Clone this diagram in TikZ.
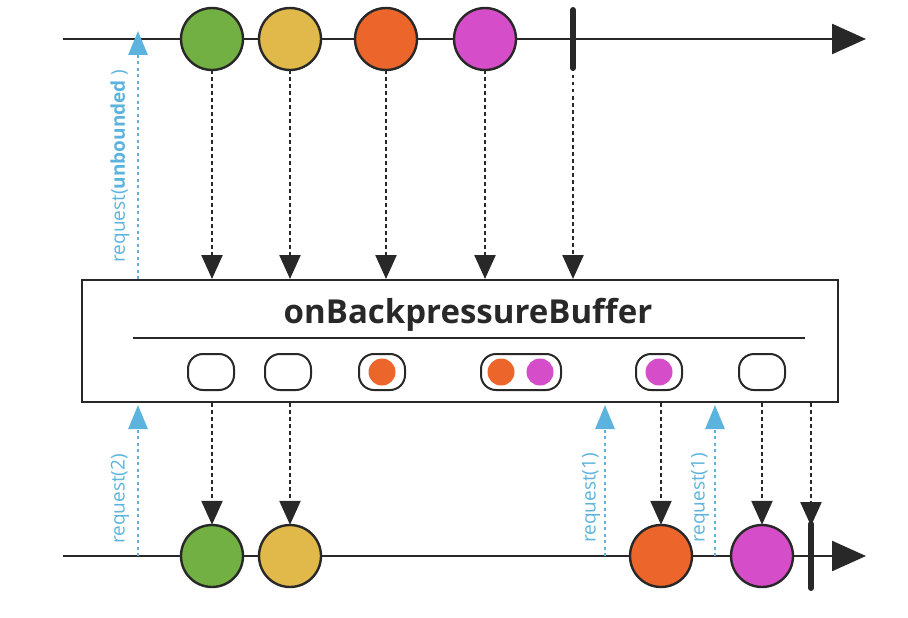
\documentclass[tikz,border=0pt]{standalone}
\usepackage{fontspec}
\setmainfont{Open Sans}
\usetikzlibrary{arrows.meta}

\definecolor{lineDark}{RGB}{40,40,40}
\definecolor{mGreen}{RGB}{114,176,67}
\definecolor{mYellow}{RGB}{224,185,74}
\definecolor{mOrange}{RGB}{236,102,44}
\definecolor{mMagenta}{RGB}{213,77,200}
\definecolor{reqBlue}{RGB}{92,180,222}

\begin{document}
\begin{tikzpicture}[x=1pt, y=-1pt,
    marble/.style={circle, draw=lineDark, line width=2.4pt, fill=#1, minimum size=62pt, inner sep=0pt},
    slot/.style={draw=lineDark, line width=2pt, rounded corners=15pt, minimum height=36pt, inner sep=0pt},
    dot/.style={circle, fill=#1, minimum size=27pt, inner sep=0pt},
    emit/.style={draw=lineDark, line width=2.4pt, dash pattern=on 3.5pt off 3.5pt, -{Triangle[length=24pt,width=21pt]}},
    req/.style={draw=reqBlue, line width=2.8pt, dash pattern=on 3pt off 3.5pt, -{Triangle[length=24pt,width=19pt]}},
    reqlabel/.style={rotate=90, text=reqBlue, font=\fontsize{19}{21}\selectfont, inner sep=0pt},
    timeline/.style={draw=lineDark, line width=2.5pt, -{Triangle[length=34pt,width=30pt]}},
    stopbar/.style={draw=lineDark, line width=6pt, line cap=round}]
    \useasboundingbox (0,0) rectangle (908,618);

    % Parametry
    \def\yTop{39}  % górna oś czasu
    \def\yBot{556} % dolna oś czasu

    % Osie czasu
    \coordinate (top start) at (63,\yTop);
    \coordinate (top end) at (866,\yTop);
    \coordinate (bot start) at (63,\yBot);
    \coordinate (bot end) at (866,\yBot);
    \draw[timeline] (top start) -- (top end);
    \draw[timeline] (bot start) -- (bot end);

    % Operator
    \node[draw=lineDark, line width=2pt, minimum width=756pt, minimum height=122pt,
        inner sep=0pt] (buf) at (460,341) {};
    \node[font=\fontsize{33}{36}\selectfont\bfseries, text=lineDark] (title) at (468,315)
        {onBackpressureBuffer};
    \coordinate (rule a) at (133,338);
    \coordinate (rule b) at (805,338);
    \draw[lineDark, line width=1.8pt] (rule a) -- (rule b);

    % Bufor
    \node[slot, minimum width=46pt] (s1) at (211,372) {};
    \node[slot, minimum width=46pt] (s2) at (288,372) {};
    \node[slot, minimum width=46pt] (s3) at (382,372) {};
    \node[dot=mOrange] (d3) at (s3) {};
    \node[slot, minimum width=80pt] (s4) at (521,372) {};
    \node[dot=mOrange] (d4a) at (501,372) {};
    \node[dot=mMagenta] (d4b) at (540,372) {};
    \node[slot, minimum width=46pt] (s5) at (659,372) {};
    \node[dot=mMagenta] (d5) at (s5) {};
    \node[slot, minimum width=46pt] (s6) at (762,372) {};

    % Źródło
    \node[marble=mGreen] (t1) at (212,\yTop) {};
    \node[marble=mYellow] (t2) at (290,\yTop) {};
    \node[marble=mOrange] (t3) at (386,\yTop) {};
    \node[marble=mMagenta] (t4) at (485,\yTop) {};
    \coordinate (tEnd a) at (573,10);
    \coordinate (tEnd b) at (573,68);
    \draw[stopbar] (tEnd a) -- (tEnd b);

    % Wynik
    \node[marble=mGreen] (b1) at (212,\yBot) {};
    \node[marble=mYellow] (b2) at (290,\yBot) {};
    \node[marble=mOrange] (b3) at (661,\yBot) {};
    \node[marble=mMagenta] (b4) at (762,\yBot) {};
    \coordinate (bEnd a) at (811,524);
    \coordinate (bEnd b) at (811,588);
    \draw[stopbar] (bEnd a) -- (bEnd b);

    % Emisje
    \foreach \n in {t1,t2,t3,t4}
        \draw[emit] ([yshift=1pt]\n.south) -- (\n |- buf.north);
    \draw[emit] (tEnd b) -- (tEnd b |- buf.north);
    \foreach \n in {b1,b2,b3,b4}
        \draw[emit] (\n |- buf.south) -- ([yshift=-1pt]\n.north);
    \draw[emit] (bEnd a |- buf.south) -- ([yshift=-2pt]bEnd a);

    % Żądania
    \coordinate (r0) at (138,\yTop);
    \coordinate (r1) at (138,\yBot);
    \coordinate (r2) at (605,\yBot);
    \coordinate (r3) at (715,\yBot);
    \draw[req] (r0 |- buf.north) -- ([yshift=8pt]r0);
    \foreach \r in {r1,r2,r3}
        \draw[req] (\r) -- ([yshift=-2pt]\r |- buf.south);
    \node[reqlabel] (l0) at (120,166) {request(\textbf{unbounded} )};
    \node[reqlabel] (l1) at (120,499) {request(2)};
    \node[reqlabel] (l2) at (591,498) {request(1)};
    \node[reqlabel] (l3) at (700,498) {request(1)};
\end{tikzpicture}
\end{document}
